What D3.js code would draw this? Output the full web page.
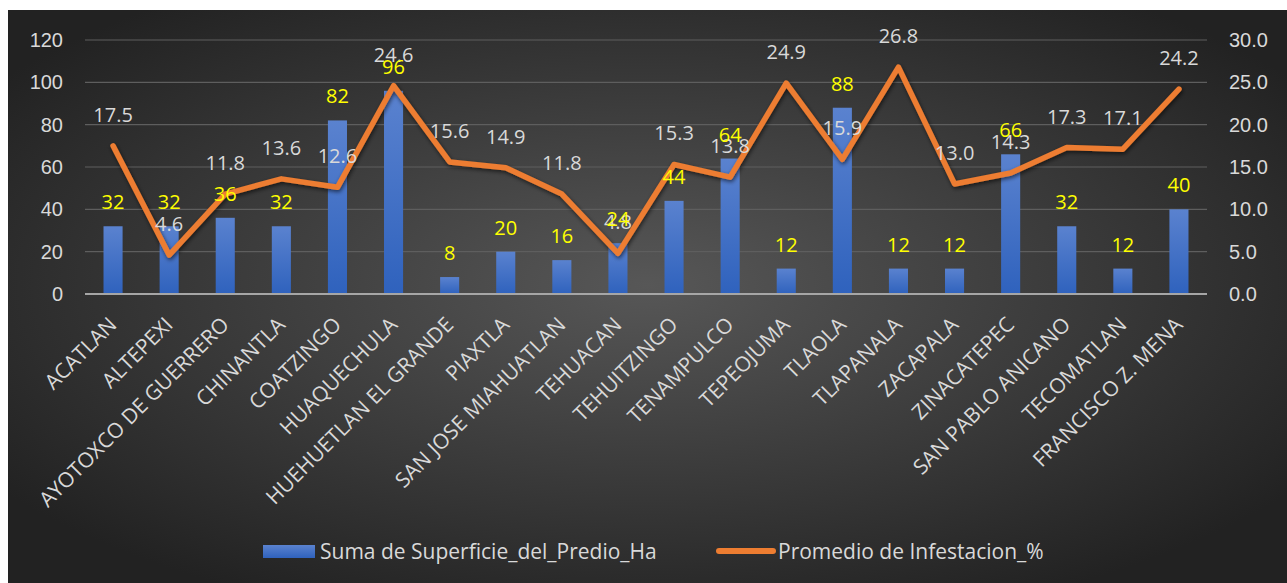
<!DOCTYPE html>
<html>
<head>
<meta charset="utf-8">
<script src="https://cdn.jsdelivr.net/npm/d3@7"></script>
<style>
  body { margin: 0; background: #fff; }
  svg { display: block; font-family: "Open Sans", "Noto Sans", sans-serif; }
</style>
</head>
<body>
<div id="chart"></div>
<script>
const WIDTH = 1287;
const HEIGHT = 583;
const PLOT = { left: 85, right: 1207, top: 40, bottom: 294 };

const categories = ["ACATLAN", "ALTEPEXI", "AYOTOXCO DE GUERRERO", "CHINANTLA", "COATZINGO",
  "HUAQUECHULA", "HUEHUETLAN EL GRANDE", "PIAXTLA", "SAN JOSE MIAHUATLAN", "TEHUACAN",
  "TEHUITZINGO", "TENAMPULCO", "TEPEOJUMA", "TLAOLA", "TLAPANALA", "ZACAPALA",
  "ZINACATEPEC", "SAN PABLO ANICANO", "TECOMATLAN", "FRANCISCO Z. MENA"];
const superficie = [32, 32, 36, 32, 82, 96, 8, 20, 16, 24, 44, 64, 12, 88, 12, 12, 66, 32, 12, 40];
const infestacion = [17.5, 4.6, 11.8, 13.6, 12.6, 24.6, 15.6, 14.9, 11.8, 4.8, 15.3, 13.8, 24.9, 15.9, 26.8, 13.0, 14.3, 17.3, 17.1, 24.2];
const leftTicks = [0, 20, 40, 60, 80, 100, 120];
const rightTicks = [0, 5, 10, 15, 20, 25, 30];
const seriesNames = ["Suma de Superficie_del_Predio_Ha", "Promedio de Infestacion_%"];

const svg = d3.select("#chart").append("svg")
  .attr("width", WIDTH)
  .attr("height", HEIGHT);

const defs = svg.append("defs");

// dark radial background
const bg = defs.append("radialGradient")
  .attr("id", "bg")
  .attr("cx", "50%").attr("cy", "48%").attr("r", "62%");
bg.append("stop").attr("offset", "0%").attr("stop-color", "#575757");
bg.append("stop").attr("offset", "100%").attr("stop-color", "#222222");

const barGrad = defs.append("linearGradient")
  .attr("id", "barGrad")
  .attr("x1", 0).attr("y1", 0).attr("x2", 0).attr("y2", 1);
barGrad.append("stop").attr("offset", "0%").attr("stop-color", "#5a82cf");
barGrad.append("stop").attr("offset", "100%").attr("stop-color", "#2f62bd");

const shadow = defs.append("filter").attr("id", "shadow")
  .attr("x", "-10%").attr("y", "-10%").attr("width", "120%").attr("height", "120%");
shadow.append("feDropShadow")
  .attr("dx", 1).attr("dy", 2).attr("stdDeviation", 2)
  .attr("flood-color", "#000").attr("flood-opacity", 0.6);

svg.append("rect")
  .attr("x", 8).attr("y", 10)
  .attr("width", WIDTH - 8).attr("height", HEIGHT - 10)
  .attr("fill", "url(#bg)");

const x = d3.scaleBand()
  .domain(categories)
  .range([PLOT.left, PLOT.right])
  .paddingInner(0.66)
  .paddingOuter(0.33);

const xCenter = (d) => x(d) + x.bandwidth() / 2;

const yLeft = d3.scaleLinear().domain([0, 120]).range([PLOT.bottom, PLOT.top]);
const yRight = d3.scaleLinear().domain([0, 30]).range([PLOT.bottom, PLOT.top]);

// gridlines
svg.append("g")
  .selectAll("line")
  .data(leftTicks.slice(1))
  .enter()
  .append("line")
  .attr("x1", PLOT.left).attr("x2", PLOT.right)
  .attr("y1", (d) => yLeft(d)).attr("y2", (d) => yLeft(d))
  .attr("stroke", "#5e5e5e")
  .attr("stroke-width", 1.2);

// left axis
const leftAxis = svg.append("g")
  .attr("transform", "translate(" + 63 + ",0)")
  .call(d3.axisLeft(yLeft).tickValues(leftTicks).tickSize(0).tickPadding(0));
leftAxis.select(".domain").remove();
leftAxis.selectAll("text")
  .attr("fill", "#d9d9d9")
  .attr("font-size", "20px");

// right axis
const rightAxis = svg.append("g")
  .attr("transform", "translate(" + 1229 + ",0)")
  .call(d3.axisRight(yRight).tickValues(rightTicks).tickSize(0).tickPadding(0)
    .tickFormat(d3.format(".1f")));
rightAxis.select(".domain").remove();
rightAxis.selectAll("text")
  .attr("fill", "#d9d9d9")
  .attr("font-size", "20px");

// bars
svg.append("g")
  .selectAll("rect")
  .data(categories)
  .enter()
  .append("rect")
  .attr("x", (d) => x(d))
  .attr("y", (d, i) => yLeft(superficie[i]))
  .attr("width", x.bandwidth())
  .attr("height", (d, i) => PLOT.bottom - yLeft(superficie[i]))
  .attr("fill", "url(#barGrad)");

// baseline
svg.append("line")
  .attr("x1", PLOT.left).attr("x2", PLOT.right)
  .attr("y1", PLOT.bottom).attr("y2", PLOT.bottom)
  .attr("stroke", "#a6a6a6")
  .attr("stroke-width", 2);

// category labels
svg.append("g")
  .selectAll("text")
  .data(categories)
  .enter()
  .append("text")
  .attr("transform", (d) => "translate(" + (xCenter(d) + 5) + "," + 326 + ") rotate(-45)")
  .attr("text-anchor", "end")
  .attr("fill", "#d9d9d9")
  .attr("font-size", "21px")
  .text((d) => d);

// line
const line = d3.line()
  .x((d, i) => xCenter(categories[i]))
  .y((d) => yRight(d));

svg.append("path")
  .datum(infestacion)
  .attr("d", line)
  .attr("fill", "none")
  .attr("stroke", "#ed7d31")
  .attr("stroke-width", 5.5)
  .attr("stroke-linejoin", "round")
  .attr("stroke-linecap", "round")
  .attr("filter", "url(#shadow)");

// line value labels
svg.append("g")
  .selectAll("text")
  .data(infestacion)
  .enter()
  .append("text")
  .attr("x", (d, i) => xCenter(categories[i]))
  .attr("y", (d) => yRight(d) - 24)
  .attr("text-anchor", "middle")
  .attr("fill", "#d9d9d9")
  .attr("font-size", "20px")
  .text((d) => d3.format(".1f")(d));

// bar value labels
svg.append("g")
  .selectAll("text")
  .data(superficie)
  .enter()
  .append("text")
  .attr("x", (d, i) => xCenter(categories[i]))
  .attr("y", (d) => yLeft(d) - 17)
  .attr("text-anchor", "middle")
  .attr("fill", "#ffff00")
  .attr("font-size", "20px")
  .text((d) => d);

// legend
const legend = svg.append("g");
legend.append("rect")
  .attr("x", 263).attr("y", 545)
  .attr("width", 52).attr("height", 13)
  .attr("fill", "url(#barGrad)");
legend.append("text")
  .attr("x", 320).attr("y", 559)
  .attr("fill", "#d9d9d9")
  .attr("font-size", "21px")
  .text(seriesNames[0]);
legend.append("line")
  .attr("x1", 719).attr("x2", 773)
  .attr("y1", 551).attr("y2", 551)
  .attr("stroke", "#ed7d31")
  .attr("stroke-width", 6)
  .attr("stroke-linecap", "round");
legend.append("text")
  .attr("x", 778).attr("y", 559)
  .attr("fill", "#d9d9d9")
  .attr("font-size", "21px")
  .text(seriesNames[1]);
</script>
</body>
</html>
